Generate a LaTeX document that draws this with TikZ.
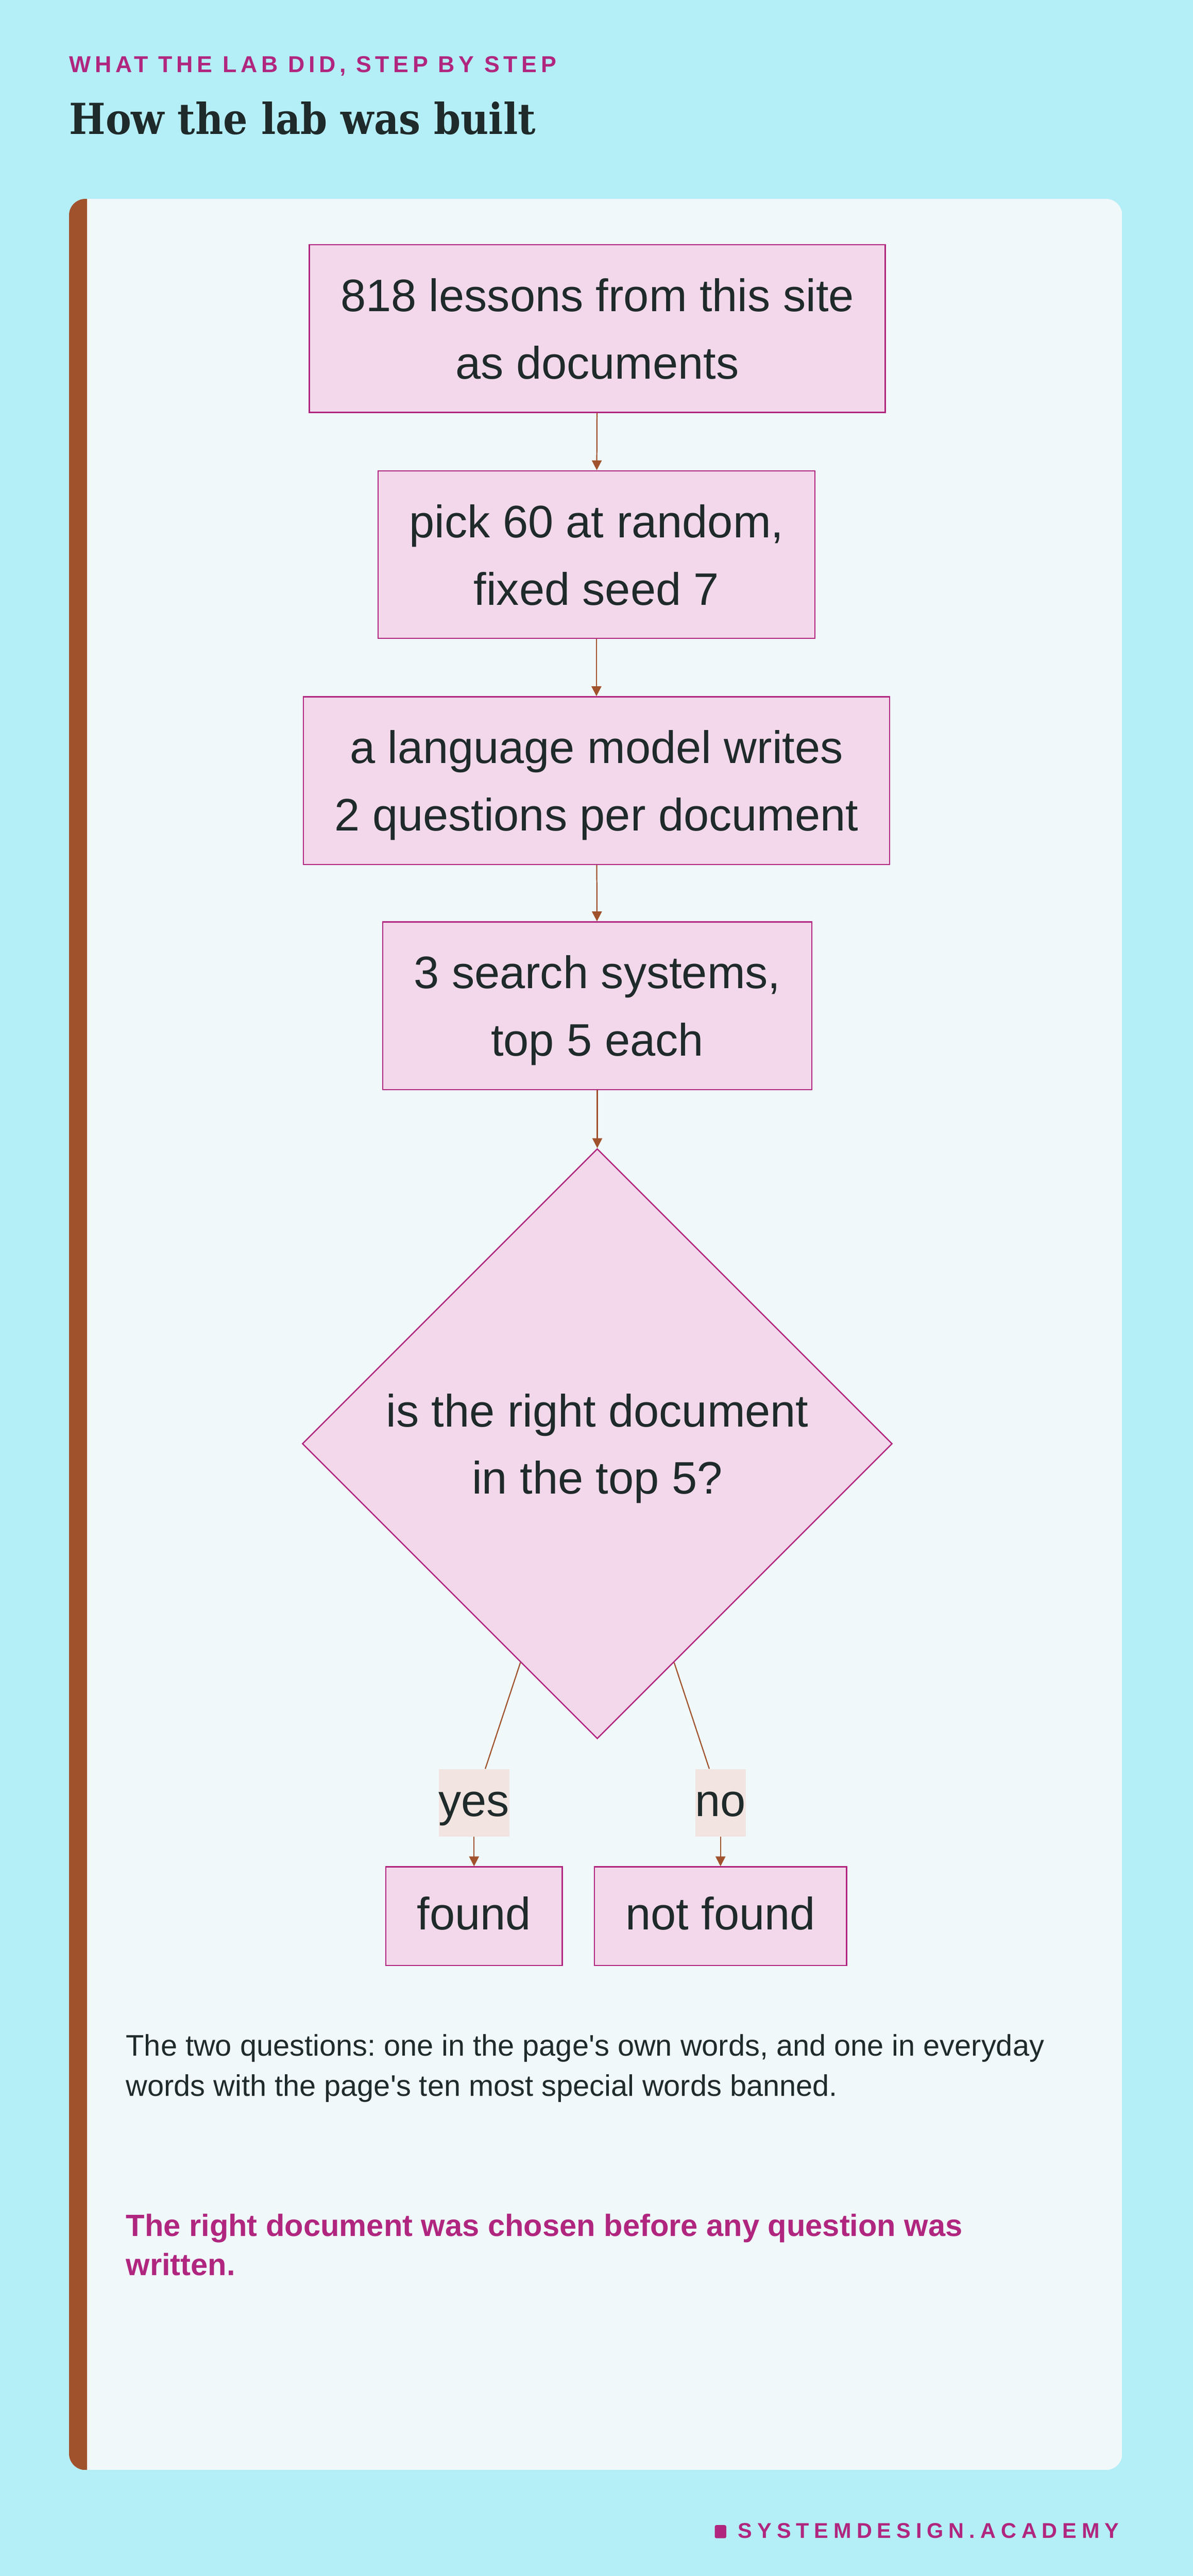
\documentclass[tikz,border=0pt]{standalone}
\usepackage{fontspec}
\setmainfont{Liberation Sans}
\newfontfamily\titlefont{DejaVu Serif Condensed}
\newfontfamily\eyefont[LetterSpace=17]{Liberation Sans}
\newfontfamily\footfont[LetterSpace=24]{Liberation Sans}
\usetikzlibrary{shapes.geometric,arrows.meta,calc}
\definecolor{sky}{HTML}{B4EEF6}
\definecolor{card}{HTML}{F0F8FA}
\definecolor{bar}{HTML}{A0522D}
\definecolor{plum}{HTML}{B0267F}
\definecolor{boxfill}{HTML}{F2D8EA}
\definecolor{tagfill}{HTML}{F2E4E0}
\definecolor{ink}{HTML}{1F2A2A}
\frenchspacing
\begin{document}
\begin{tikzpicture}[x=1pt,y=-1pt,
	boxtext/.style={text=ink,font=\fontsize{27.7}{41}\selectfont,align=center},
	oneline/.style={boxtext,execute at begin node=\strut,execute at end node=\strut},
	twoline/.style={boxtext,execute at begin node={\rule{0pt}{73.5pt}},execute at end node=\strut},
	stepbox/.style={twoline,draw=plum,line width=0.75pt,fill=boxfill,
		inner xsep=19pt,inner ysep=0pt,minimum height=102pt},
	endbox/.style={oneline,draw=plum,line width=0.75pt,fill=boxfill,
		inner xsep=19pt,inner ysep=0pt,minimum height=60pt},
	choice/.style={twoline,diamond,draw=plum,line width=0.75pt,fill=boxfill,
		minimum width=359pt,minimum height=359pt,inner sep=0pt},
	tag/.style={oneline,fill=tagfill,inner sep=0pt,minimum height=40pt},
	stem/.style={draw=bar,line width=0.7pt},
	link/.style={stem,-{Triangle[length=6pt,width=6pt]}}]
		
		% page and card
		\fill[sky] (0,0) rectangle (726,1567.5);
		\begin{scope}
		\clip[rounded corners=10pt] (42,121) rectangle (683,1503);
		\fill[card] (42,121) rectangle (683,1503);
		\fill[bar] (42,121) rectangle (53,1503);
		\end{scope}
		
		\node[anchor=base west,inner sep=0pt,text=plum,font=\eyefont\bfseries\fontsize{14}{14}\selectfont] (eyebrow) at (42,44.2) {WHAT THE LAB DID, STEP BY STEP};
		\node[anchor=base west,inner sep=0pt,text=ink,font=\titlefont\bfseries\fontsize{26}{26}\selectfont] (title) at (42,81.6) {How the lab was built};
		
		% flow
		\node[stepbox] (docs) at (363.5,200) {818 lessons from this site\\as documents};
		\node[stepbox] (pick) at (363,337.5) {pick 60 at random,\\fixed seed 7};
		\node[stepbox] (ask) at (363,475) {a language model writes\\2 questions per document};
		\node[stepbox] (search) at (363.5,612) {3 search systems,\\top 5 each};
		\node[choice] (check) at (363.5,878.5) {is the right document\\in the top 5?};
		\node[tag] (yes) at (288.5,1097) {yes};
		\node[tag] (no) at (438.5,1097) {no};
		\node[endbox] (found) at (288.5,1166) {found};
		\node[endbox] (lost) at (438.5,1166) {not found};
		
		\coordinate (ys) at ($(check.west)!0.74!(check.south)$);
		\coordinate (ns) at ($(check.east)!0.74!(check.south)$);
		
		\draw[link] (docs) -- (pick);
		\draw[link] (pick) -- (ask);
		\draw[link] (ask) -- (search);
		\draw[link] (search) -- (check);
		\draw[stem] (ys) -- (yes);
		\draw[stem] (ns) -- (no);
		\draw[link] (yes) -- (found);
		\draw[link] (no) -- (lost);
		
		% notes
		\node[anchor=base west,inner sep=0pt,align=left,text=ink,font=\fontsize{18.1}{24.5}\selectfont] (note) at (76.5,1275.5) {The two questions: one in the page\textquotesingle s own words, and one in everyday\\words with the page\textquotesingle s ten most special words banned.};
		\node[anchor=base west,inner sep=0pt,align=left,text=plum,font=\bfseries\fontsize{18.7}{24}\selectfont] (point) at (76.5,1384.7) {The right document was chosen before any question was\\written.};
		
		% footer
		\fill[plum,rounded corners=1pt] (435,1536.5) rectangle (442,1544.5);
		\node[anchor=base west,inner sep=0pt,text=plum,font=\footfont\bfseries\fontsize{13}{13}\selectfont] (site) at (449,1544.4) {SYSTEMDESIGN.ACADEMY};
		
\end{tikzpicture}
\end{document}
